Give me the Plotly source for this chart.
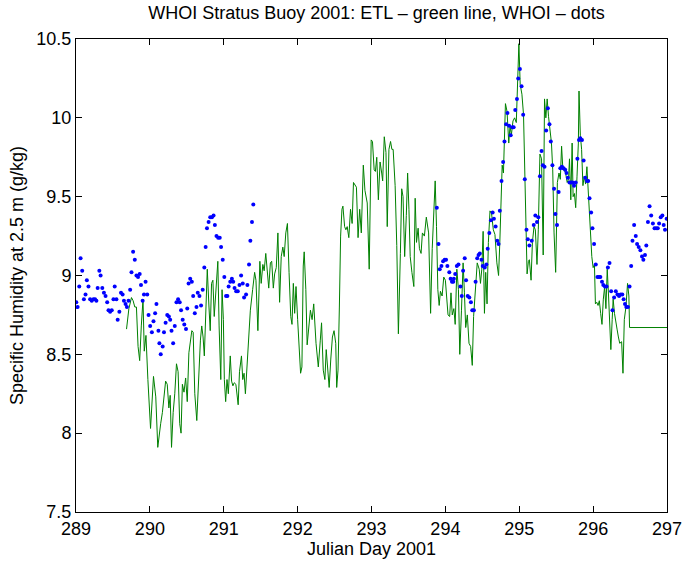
import plotly.graph_objects as go

# ETL (green line) - Julian day and specific humidity (g/kg)
etl_day = [
    289.684, 289.716, 289.751, 289.773, 289.796, 289.818, 289.840, 289.862, 289.884, 289.907,
    289.924, 289.947, 289.973, 290.009, 290.049, 290.080, 290.107, 290.138,
    290.146, 290.169, 290.191, 290.213, 290.235, 290.257, 290.275, 290.293, 290.315, 290.337,
    290.360, 290.382, 290.404, 290.422, 290.440, 290.462, 290.484, 290.506, 290.528, 290.546,
    290.568, 290.586, 290.608, 290.635, 290.662, 290.684, 290.702, 290.720, 290.737, 290.760,
    290.777, 290.800, 290.817, 290.835, 290.853, 290.871, 290.893, 290.920, 290.937, 290.960,
    290.977, 290.995, 291.008, 291.026, 291.044, 291.062, 291.088, 291.106, 291.124, 291.142,
    291.164, 291.195, 291.213, 291.240, 291.257, 291.275, 291.293,
    291.320, 291.338, 291.360, 291.391, 291.418, 291.436, 291.462, 291.489, 291.507, 291.529,
    291.547, 291.569, 291.591, 291.609, 291.631, 291.649, 291.671, 291.689, 291.711, 291.733,
    291.756, 291.778, 291.800, 291.818, 291.840, 291.862, 291.884, 291.907, 291.924, 291.942,
    291.960, 291.978, 292.000, 292.027, 292.040, 292.058, 292.076, 292.089, 292.111, 292.129,
    292.151, 292.173, 292.196, 292.218,
    292.249, 292.280, 292.307, 292.324, 292.347, 292.369, 292.387, 292.409, 292.427, 292.449,
    292.471, 292.493, 292.516, 292.529, 292.547, 292.565, 292.582, 292.600, 292.613, 292.636,
    292.653, 292.671, 292.693, 292.716, 292.738, 292.756, 292.778, 292.796, 292.818, 292.840,
    292.862, 292.889, 292.911, 292.942, 292.969, 292.996, 293.013, 293.036, 293.053, 293.071,
    293.093, 293.116, 293.138, 293.151, 293.173, 293.196, 293.213, 293.236, 293.258, 293.276,
    293.293, 293.320, 293.342, 293.364, 293.391, 293.409, 293.427,
    293.449, 293.471, 293.489, 293.507, 293.524, 293.547, 293.573, 293.591, 293.609, 293.631,
    293.649, 293.671, 293.689, 293.716, 293.742, 293.773, 293.800, 293.822, 293.844, 293.862,
    293.880, 293.898, 293.916, 293.933, 293.956, 293.978, 294.000, 294.018, 294.036, 294.058,
    294.076,
    294.093, 294.115, 294.133, 294.155, 294.177, 294.195, 294.218, 294.240, 294.258, 294.275,
    294.297, 294.320, 294.342, 294.364, 294.382, 294.404, 294.431, 294.458, 294.475, 294.493,
    294.511, 294.529, 294.546, 294.564, 294.582, 294.604, 294.626, 294.649, 294.671, 294.697,
    294.720, 294.737, 294.755, 294.769, 294.786, 294.804, 294.813, 294.835, 294.858, 294.875,
    294.893, 294.915, 294.937, 294.960, 294.973, 294.986, 294.995, 295.013, 295.036, 295.058,
    295.075, 295.089, 295.106, 295.124, 295.137,
    295.160, 295.178, 295.200, 295.218, 295.240, 295.258, 295.280, 295.302, 295.324, 295.342,
    295.360, 295.378, 295.396, 295.418, 295.436, 295.453, 295.471, 295.493, 295.516, 295.538,
    295.556, 295.573, 295.591, 295.609, 295.627, 295.649, 295.667, 295.680, 295.698, 295.716,
    295.729, 295.747, 295.764, 295.782, 295.800, 295.809, 295.827, 295.844, 295.862, 295.880,
    295.898, 295.916, 295.938, 295.960, 295.982, 296.000, 296.018, 296.031, 296.049, 296.067,
    296.084, 296.102, 296.120, 296.138, 296.156, 296.173, 296.191, 296.209, 296.227, 296.240,
    296.258, 296.271, 296.289, 296.307, 296.324, 296.342, 296.360,
    296.386, 296.404, 296.422, 296.444, 296.466, 296.484, 296.493, 297.000,
]
etl_q = [
    8.66, 8.79, 8.86, 8.84, 8.80, 8.80, 8.55, 8.46, 8.68, 8.85,
    8.52, 8.62, 8.34, 8.03, 8.36, 8.23, 7.91, 8.05,
    8.06, 8.13, 8.25, 8.33, 8.31, 8.16, 8.24, 7.91, 8.13, 8.25,
    8.44, 8.39, 8.06, 8.00, 8.31, 8.26, 8.35, 8.20, 8.51, 8.57,
    8.65, 8.64, 8.25, 8.08, 8.42, 8.59, 8.68, 8.61, 8.49, 8.85,
    9.04, 8.80, 8.65, 8.95, 8.97, 8.74, 8.91, 9.09, 8.68, 8.34,
    8.91, 8.72, 8.34, 8.20, 8.34, 8.25, 8.49, 8.33, 8.30, 8.32,
    8.31, 8.18, 8.39, 8.49, 8.34, 8.38, 8.25,
    8.46, 8.55, 8.78, 8.91, 9.02, 8.97, 8.65, 9.09, 8.95, 9.07,
    9.03, 9.14, 9.04, 8.92, 9.08, 9.09, 8.92, 9.01, 9.05, 9.27,
    8.83, 9.12, 9.18, 9.12, 9.27, 9.33, 9.02, 8.74, 8.69, 8.95,
    8.76, 8.93, 8.72, 8.49, 8.38, 8.42, 9.06, 9.15, 8.91, 8.56,
    8.70, 8.78, 8.72, 8.82,
    8.57, 8.42, 8.59, 8.70, 8.40, 8.34, 8.53, 8.38, 8.29, 8.47,
    8.61, 8.65, 8.57, 8.29, 8.40, 8.80, 9.25, 9.42, 9.44, 9.31,
    9.29, 9.31, 9.24, 9.42, 9.33, 9.59, 9.57, 9.56, 9.24, 9.42,
    9.27, 9.70, 9.54, 9.46, 9.04, 9.86, 9.85, 9.67, 9.66, 9.75,
    9.48, 9.72, 9.65, 9.60, 9.88, 9.78, 9.31, 9.80, 9.85, 9.80,
    9.80, 9.57, 9.19, 8.63, 9.14, 9.55, 9.50,
    9.12, 9.38, 9.65, 9.42, 9.12, 9.02, 8.93, 9.49, 9.21, 9.30,
    9.17, 9.14, 9.27, 9.25, 9.37, 9.27, 8.76, 9.17, 9.44, 9.60,
    9.31, 8.91, 8.81, 8.90, 8.87, 8.99, 8.97, 8.85, 8.75, 8.74,
    8.89,
    8.75, 8.79, 8.69, 9.04, 8.91, 8.50, 8.78, 9.08, 8.89, 8.67,
    8.75, 8.57, 8.55, 8.43, 8.74, 8.89, 9.08, 9.04, 8.95, 9.04,
    9.28, 8.76, 9.02, 8.82, 9.21, 9.41, 9.39, 9.29, 9.26, 9.08,
    9.00, 9.21, 9.60, 9.70, 9.65, 9.93, 10.09, 10.04, 9.84, 9.95,
    9.89, 9.98, 10.00, 9.97, 10.14, 10.35, 10.47, 10.21, 10.15, 10.02,
    9.61, 9.31, 9.01, 9.09, 9.10,
    8.97, 9.21, 9.31, 9.29, 9.07, 9.29, 9.77, 9.74, 9.13, 10.12,
    10.00, 10.12, 10.01, 9.89, 9.84, 9.67, 9.27, 9.02, 9.59, 9.65,
    9.61, 9.82, 9.67, 9.67, 9.65, 9.59, 9.61, 9.74, 9.48, 9.84,
    9.50, 9.52, 9.43, 9.63, 9.84, 10.17, 9.89, 9.80, 9.57, 9.63,
    9.58, 9.69, 9.50, 9.29, 9.12, 9.05, 9.07, 8.82, 8.83, 8.81,
    8.84, 8.76, 8.69, 8.85, 8.93, 8.79, 9.04, 8.87, 8.72, 8.53,
    8.72, 8.85, 8.76, 8.72, 8.66, 8.61, 8.57,
    8.58, 8.38, 8.72, 8.80, 8.95, 8.87, 8.67, 8.67,
]

# WHOI (blue dots)
whoi_day = [
    289.004, 289.022, 289.044, 289.062, 289.084, 289.107, 289.129, 289.147, 289.169, 289.191,
    289.213, 289.236, 289.258, 289.276, 289.293, 289.316, 289.333, 289.356, 289.378, 289.400,
    289.422, 289.440, 289.462, 289.484, 289.507, 289.524, 289.547, 289.564, 289.587, 289.609,
    289.631, 289.649, 289.671, 289.689, 289.711, 289.733, 289.751, 289.773, 289.796, 289.818,
    289.840, 289.862, 289.880, 289.902, 289.920, 289.942, 289.964, 289.982, 290.004, 290.027,
    290.049, 290.071, 290.089, 290.116, 290.129, 290.147,
    290.173, 290.191, 290.213, 290.235, 290.257, 290.275, 290.293, 290.315, 290.337, 290.360,
    290.382, 290.404, 290.422, 290.444, 290.466, 290.489, 290.506, 290.524, 290.546, 290.568,
    290.586, 290.608, 290.631, 290.648, 290.671, 290.693, 290.715, 290.737, 290.755, 290.773,
    290.795, 290.817, 290.840, 290.862, 290.880, 290.902, 290.924, 290.946, 290.964, 290.986,
    291.008, 291.031, 291.049, 291.066, 291.088, 291.110, 291.128, 291.146, 291.168, 291.190,
    291.213, 291.235, 291.257, 291.275,
    291.302, 291.320, 291.342, 291.360, 291.382, 291.400,
    293.884, 293.907, 293.924, 293.947, 293.969, 293.991, 294.009, 294.027, 294.053, 294.071,
    294.089,
    294.107, 294.115, 294.133, 294.155, 294.177, 294.204, 294.222, 294.240, 294.262, 294.280,
    294.302, 294.324, 294.346, 294.364, 294.386, 294.409, 294.431, 294.449, 294.466, 294.489,
    294.506, 294.533, 294.555, 294.573, 294.595, 294.617, 294.640, 294.657, 294.680, 294.702,
    294.720, 294.737, 294.760, 294.782, 294.800, 294.822, 294.840, 294.862, 294.884, 294.906,
    294.924, 294.946, 294.969, 294.986, 295.009, 295.031, 295.053, 295.075, 295.098, 295.116,
    295.137,
    295.169, 295.196, 295.218, 295.240, 295.258, 295.280, 295.302, 295.320, 295.342, 295.364,
    295.387, 295.409, 295.427, 295.449, 295.471, 295.489, 295.511, 295.533, 295.556, 295.578,
    295.600, 295.622, 295.640, 295.658, 295.680, 295.702, 295.720, 295.742, 295.764, 295.787,
    295.809, 295.827, 295.849, 295.871, 295.893, 295.916, 295.933, 295.951, 295.973, 295.991,
    296.013, 296.036, 296.058, 296.080, 296.098, 296.120, 296.138, 296.160, 296.182,
    296.200, 296.222, 296.244, 296.262, 296.284, 296.307, 296.329, 296.351, 296.373, 296.395,
    296.413, 296.431, 296.449, 296.471, 296.493, 296.515, 296.533, 296.555, 296.577, 296.595,
    296.617, 296.640, 296.662, 296.680, 296.702, 296.720, 296.742, 296.764, 296.786, 296.809,
    296.831, 296.853, 296.875, 296.893, 296.915, 296.937, 296.955, 296.973, 296.995,
]
whoi_q = [
    8.83, 8.80, 8.93, 9.11, 9.03, 8.85, 8.88, 8.97, 8.93, 8.85,
    8.84, 8.85, 8.85, 8.84, 8.92, 9.03, 9.00, 8.92, 8.89, 8.87,
    8.83, 8.78, 8.77, 8.78, 8.85, 8.93, 8.85, 8.72, 8.77, 8.89,
    8.88, 8.84, 8.82, 8.80, 8.84, 8.91, 9.02, 9.15, 9.10, 9.00,
    8.99, 9.01, 8.94, 8.84, 8.88, 8.96, 8.88, 8.75, 8.68, 8.64,
    8.71, 8.76, 8.82, 8.65, 8.57, 8.50,
    8.55, 8.64, 8.70, 8.75, 8.74, 8.72, 8.65, 8.57, 8.68, 8.83,
    8.85, 8.83, 8.78, 8.72, 8.69, 8.66, 8.79, 8.95, 8.98, 8.96,
    8.87, 8.76, 8.80, 8.89, 8.87, 8.81, 8.91, 9.05, 9.18, 9.30,
    9.34, 9.37, 9.37, 9.38, 9.32, 9.25, 9.24, 9.24, 9.18, 9.10,
    8.99, 8.87, 8.87, 8.93, 8.96, 8.98, 8.96, 8.92, 8.90, 8.90,
    8.94, 9.00, 8.95, 8.86,
    8.88, 8.94, 9.07, 9.22, 9.34, 9.45,
    9.43, 9.20, 9.04, 9.06, 9.09, 9.10, 9.10, 9.06, 9.02, 8.98,
    8.96,
    8.96, 8.98, 9.01, 9.06, 9.07, 8.93, 8.87, 9.03, 9.11, 8.97,
    8.87, 8.86, 8.83, 8.78, 8.78, 8.96, 9.11, 9.13, 9.14, 9.10,
    9.06, 9.05, 9.07, 9.17, 9.27, 9.35, 9.40, 9.36, 9.31, 9.22,
    9.20, 9.41, 9.60, 9.72, 9.85, 9.96, 10.03, 9.95, 9.89, 9.94,
    9.94, 10.05, 10.12, 10.25, 10.31, 10.20, 10.02, 9.61, 9.29, 9.23,
    9.19,
    9.22, 9.32, 9.38, 9.34, 9.37, 9.63, 9.79, 9.70, 9.69, 9.92,
    10.06, 9.96, 9.85, 9.70, 9.55, 9.39, 9.32, 9.53, 9.68, 9.69,
    9.68, 9.67, 9.65, 9.62, 9.59, 9.59, 9.59, 9.57, 9.59, 9.74,
    9.86, 9.87, 9.86, 9.73, 9.62, 9.60, 9.60, 9.49, 9.40, 9.30,
    9.20, 9.07, 8.99, 8.99, 8.99, 8.96, 8.94, 8.93, 8.93,
    9.05, 9.08, 8.90, 8.78, 8.86, 8.90, 8.88, 8.87, 8.88, 8.88,
    8.85, 8.82, 8.80, 8.80, 8.93, 9.06, 9.22, 9.32, 9.25, 9.20,
    9.18, 9.16, 9.12, 9.10, 9.13, 9.19, 9.34, 9.44, 9.38, 9.33,
    9.30, 9.30, 9.30, 9.33, 9.37, 9.38, 9.32, 9.29, 9.36,
]

x_ticks = [289, 290, 291, 292, 293, 294, 295, 296, 297]
y_ticks = [7.5, 8, 8.5, 9, 9.5, 10, 10.5]
y_tick_labels = ["7.5", "8", "8.5", "9", "9.5", "10", "10.5"]

FONT = "Liberation Sans, Arial, Helvetica, sans-serif"

fig = go.Figure()
fig.add_trace(go.Scatter(
    x=etl_day, y=etl_q, mode="lines",
    line=dict(color="rgb(0,128,0)", width=1),
    name="ETL", hoverinfo="x+y",
))
fig.add_trace(go.Scatter(
    x=whoi_day, y=whoi_q, mode="markers",
    marker=dict(color="rgb(0,0,255)", size=4, line=dict(width=0)),
    name="WHOI", hoverinfo="x+y",
))

axis_common = dict(
    showline=True, linecolor="black", linewidth=1, mirror="allticks",
    ticks="inside", ticklen=6, tickwidth=1, tickcolor="black",
    showgrid=False, zeroline=False,
    tickfont=dict(family=FONT, size=18, color="black"),
)

fig.update_layout(
    width=694, height=571,
    margin=dict(l=76, r=17, t=39, b=59, pad=0),
    paper_bgcolor="white", plot_bgcolor="white",
    showlegend=False,
    font=dict(family=FONT, size=18, color="black"),
    title=dict(
        text="WHOI Stratus Buoy 2001: ETL \u2013 green line, WHOI \u2013 dots",
        x=(76 + 677) / 2 / 694, xanchor="center",
        y=1 - 13 / 571, yanchor="middle",
        font=dict(family=FONT, size=18, color="black"),
    ),
    xaxis=dict(
        range=[289, 297], tickvals=x_ticks, ticktext=[str(v) for v in x_ticks],
        title=dict(text="Julian Day 2001", font=dict(family=FONT, size=18), standoff=4),
        **axis_common,
    ),
    yaxis=dict(
        range=[7.5, 10.5], tickvals=y_ticks, ticktext=y_tick_labels,
        title=dict(text="Specific Humidity at 2.5 m (g/kg)", font=dict(family=FONT, size=18), standoff=8),
        **axis_common,
    ),
)

fig.write_html("out.html")
